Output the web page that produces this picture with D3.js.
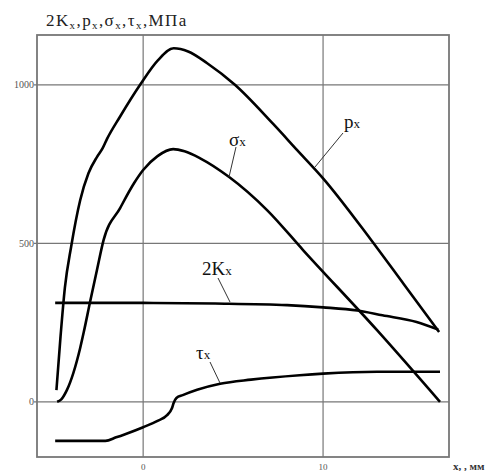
<!DOCTYPE html>
<html>
<head>
<meta charset="utf-8">
<script src="https://cdn.jsdelivr.net/npm/d3@7"></script>
<style>
  body { margin: 0; background: #fff; }
  text { font-family: "Liberation Serif", "DejaVu Serif", serif; }
</style>
</head>
<body>
<div class="chart"></div>
<script>
var width = 494,
    height = 471;

// x ticks, y ticks
var xTicks = [0, 10];
var yTicks = [0, 500, 1000];

// curves: [x mm, MPa]
var pX   = [-4.82, -4.6, -4.35, -4.0, -3.5, -3.04, -2.57, -2.25, -2.0, -1.28, -0.17, 0.83, 1.7, 2.5, 3.56, 5.1, 7.2, 8.56, 10, 12.6, 14.5, 16.45];
var pV   = [37, 200, 360, 490, 636, 721, 772, 800, 830, 900, 1000, 1078, 1115, 1105, 1068, 1000, 878, 794, 705, 516, 370, 220];

var sX   = [-4.78, -4.55, -4.24, -3.5, -3.3, -2.94, -2.57, -2.2, -1.28, -0.5, 0, 0.8, 1.67, 2.3, 3.17, 4.78, 6.9, 8.9, 13, 16.5];
var sV   = [0, 8, 37, 170, 220, 318, 415, 510, 611, 690, 731, 775, 797, 790, 768, 709, 604, 478, 226, 0];

var kX   = [-4.89, 0, 4, 8, 10, 11.9, 13.3, 15.2, 16.4];
var kV   = [312, 312, 310, 305, 298, 288, 273, 252, 228];

var tX   = [-4.89, -2.1, -1.5, -1, 0, 0.8, 1.33, 1.6, 1.7, 1.85, 2.2, 3, 4.28, 6, 8.7, 10, 13, 16.5];
var tV   = [-123, -123, -112, -102, -80, -60, -42, -20, -3, 12, 21, 38, 57, 70, 84, 89, 95, 95];

var zip = function(xs, vs){
  return xs.map(function(d, i){ return [d, vs[i]]; });
}

var x = d3.scaleLinear().domain([-5.9, 17.0]).range([37, 449]);
var y = d3.scaleLinear().domain([-174, 1157]).range([457, 35]);

var svg = d3.select(".chart").append("svg")
    .attr("width", width)
    .attr("height", height);

// grid
svg.selectAll(".vgrid").data(xTicks).enter().append("line")
    .attr("x1", function(d){ return x(d); })
    .attr("x2", function(d){ return x(d); })
    .attr("y1", y.range()[1])
    .attr("y2", y.range()[0])
    .attr("stroke", "#777")
    .attr("stroke-width", 1.2);

svg.selectAll(".hgrid").data(yTicks).enter().append("line")
    .attr("x1", x.range()[0] - 3)
    .attr("x2", x.range()[1])
    .attr("y1", function(d){ return y(d); })
    .attr("y2", function(d){ return y(d); })
    .attr("stroke", "#777")
    .attr("stroke-width", 1.2);

// frame
svg.append("rect")
    .attr("x", x.range()[0])
    .attr("y", y.range()[1])
    .attr("width", x.range()[1] - x.range()[0])
    .attr("height", y.range()[0] - y.range()[1])
    .attr("fill", "none")
    .attr("stroke", "#777")
    .attr("stroke-width", 1.8);

// tick labels
svg.selectAll(".ylab").data(yTicks).enter().append("text")
    .attr("x", 34)
    .attr("y", function(d){ return y(d) + 3.5; })
    .attr("text-anchor", "end")
    .attr("font-size", 10)
    .attr("fill", "#555")
    .text(function(d){ return d; });

svg.selectAll(".xlab").data(xTicks).enter().append("text")
    .attr("x", function(d){ return x(d); })
    .attr("y", 470)
    .attr("text-anchor", "middle")
    .attr("font-size", 9)
    .attr("fill", "#555")
    .text(function(d){ return d; });

svg.append("text")
    .attr("x", 453)
    .attr("y", 470)
    .attr("font-size", 11)
    .attr("font-weight", "bold")
    .attr("fill", "#333")
    .text("x, , мм");

// title
var title = svg.append("text")
    .attr("x", 46)
    .attr("y", 26)
    .attr("font-size", 17)
    .attr("letter-spacing", 1.4)
    .attr("fill", "#222");
[["2K", "x", ","], ["p", "x", ","], ["σ", "x", ","], ["τ", "x", ",МПа"]].forEach(function(p){
  title.append("tspan").text(p[0]);
  title.append("tspan").attr("font-size", 11).attr("dy", 3).text(p[1]);
  title.append("tspan").attr("dy", -3).text(p[2]);
});

// curves
var line = d3.line()
    .x(function(d){ return x(d[0]); })
    .y(function(d){ return y(d[1]); })
    .curve(d3.curveMonotoneX);

[zip(pX, pV), zip(sX, sV), zip(kX, kV), zip(tX, tV)].forEach(function(data){
  svg.append("path")
      .datum(data)
      .attr("d", line)
      .attr("fill", "none")
      .attr("stroke", "#000")
      .attr("stroke-width", 2.6)
      .attr("stroke-linejoin", "round");
});

// curve labels with leaders
var labels = [
  {name: "p", tx: 344, ty: 128, lx1: 343, ly1: 133, lx2: 315, ly2: 167},
  {name: "σ", tx: 229, ty: 146, lx1: 236, ly1: 147, lx2: 229, ly2: 177},
  {name: "2K", tx: 202, ty: 275, lx1: 218, ly1: 278, lx2: 230, ly2: 302},
  {name: "τ", tx: 196, ty: 359, lx1: 210, ly1: 362, lx2: 220, ly2: 383}
];

labels.forEach(function(l){
  svg.append("line")
      .attr("x1", l.lx1).attr("y1", l.ly1)
      .attr("x2", l.lx2).attr("y2", l.ly2)
      .attr("stroke", "#333")
      .attr("stroke-width", 1);
  var t = svg.append("text")
      .attr("x", l.tx)
      .attr("y", l.ty)
      .attr("font-size", 19)
      .attr("fill", "#111");
  t.append("tspan").text(l.name);
  t.append("tspan").attr("font-size", 13).text("x");
});
</script>
</body>
</html>
